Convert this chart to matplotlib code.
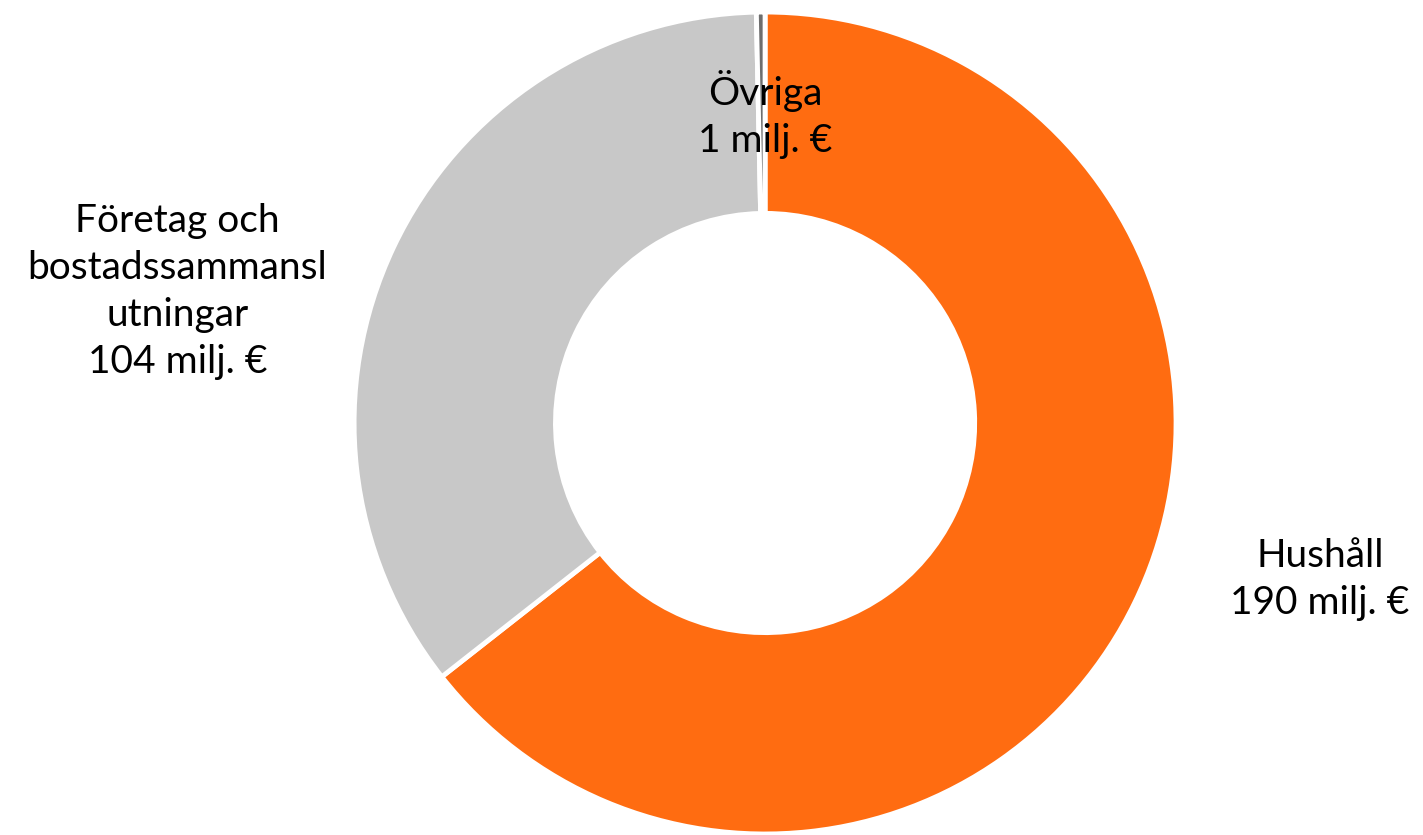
import matplotlib
matplotlib.use("Agg")
import matplotlib.pyplot as plt

categories = ["Hushåll", "Företag och\nbostadssammansl\nutningar", "Övriga"]
values = [190, 104, 1]
colors = ["#FF6C11", "#C8C8C8", "#6E6E6E"]

plt.rcParams["font.family"] = ["Lato", "DejaVu Sans"]

fig = plt.figure(figsize=(14.23, 8.35), dpi=100)
ax = fig.add_axes([0.2488, 0.0012, 0.5777, 0.9844])

wedges, _ = ax.pie(
    values,
    colors=colors,
    startangle=90,
    counterclock=False,
    radius=1,
    wedgeprops=dict(width=0.49, edgecolor="white", linewidth=3.5),
)
ax.set_xlim(-1, 1)
ax.set_ylim(-1, 1)
ax.set_aspect("equal")
ax.axis("off")

# label positions relative to the donut centre
label_pos = [(1.35, -0.38), (-1.43, 0.32), (0.0, 0.75)]
for name, v, (x, y) in zip(categories, values, label_pos):
    ax.text(x, y, f"{name}\n{v} milj. €", ha="center", va="center",
            fontsize=28, linespacing=1.38, clip_on=False)

fig.savefig("out.png", dpi=100)
